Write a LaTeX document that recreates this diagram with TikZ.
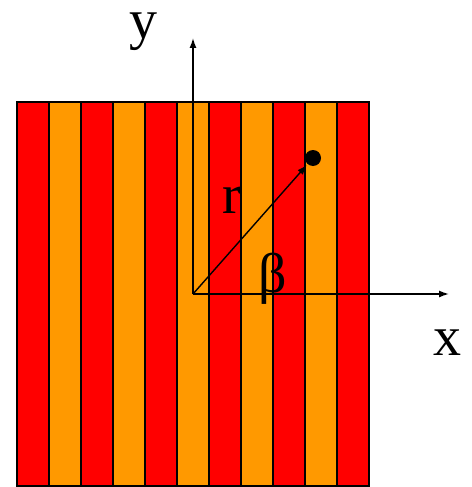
\documentclass[tikz,border=0pt]{standalone}
\usetikzlibrary{arrows.meta}
\usepackage{fontspec}
\setmainfont{Liberation Serif}
\definecolor{stripered}{HTML}{FF0000}
\definecolor{stripeorange}{HTML}{FF9900}
\begin{document}
\begin{tikzpicture}[x=1pt,y=-1pt,
  stripe/.style={draw=black,line width=1.6pt},
  axis/.style={draw=black,line width=1.4pt,-{Latex[length=10pt,width=7pt]}},
  lbl/.style={font=\fontsize{56}{60}\selectfont,inner sep=0pt}]
\useasboundingbox (0,0) rectangle (471,487);
\foreach \i in {0,...,10}{
  \pgfmathsetmacro{\xa}{17+32*\i}
  \pgfmathsetmacro{\xb}{17+32*(\i+1)}
  \ifodd\i
    \fill[stripeorange] (\xa,102) rectangle (\xb,486);
  \else
    \fill[stripered] (\xa,102) rectangle (\xb,486);
  \fi
  \draw[stripe] (\xa,102) -- (\xa,486);
}
\draw[stripe] (17,102) rectangle (369,486);
\coordinate (O) at (193,294);
\coordinate (xend) at (449,294);
\coordinate (yend) at (193,38);
\node[circle,fill=black,minimum size=16pt,inner sep=0pt] (P) at (313,158) {};
\draw[axis] (O) -- (xend);
\draw[axis] (O) -- (yend);
\draw[axis,shorten >=1pt] (O) -- (P);
\node[lbl,anchor=base] (ylbl) at (143,38) {y};
\node[lbl,anchor=base] (xlbl) at (447,355) {x};
\node[lbl,anchor=base] (rlbl) at (232,213) {r};
\node[lbl,anchor=base] (blbl) at (273,292) {β};
\end{tikzpicture}
\end{document}
